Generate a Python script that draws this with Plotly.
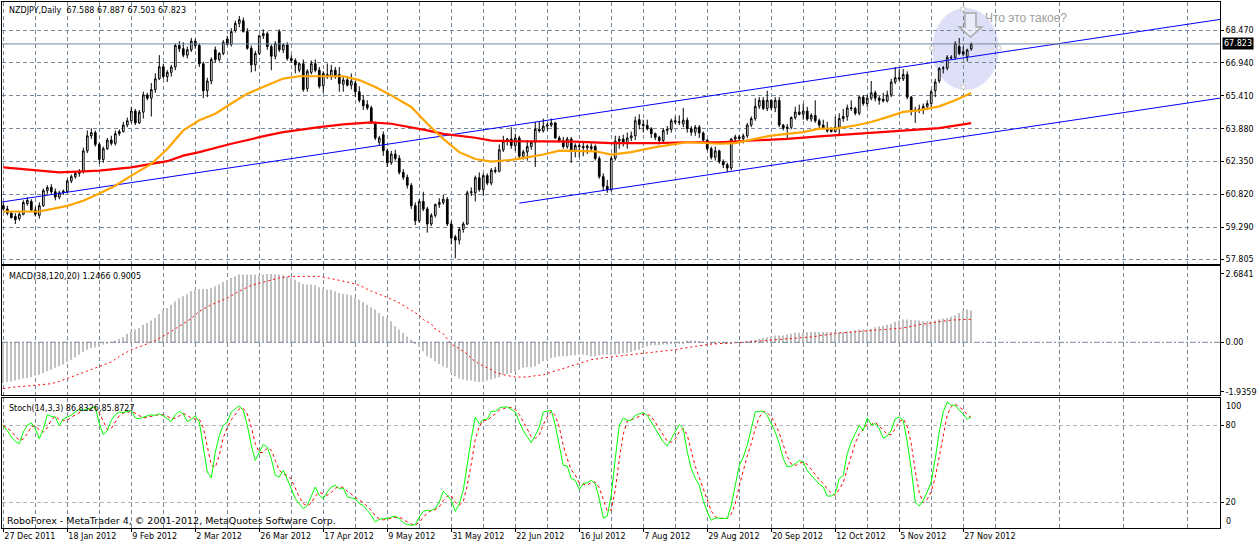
import plotly.graph_objects as go

# ---------------------------------------------------------
# data (bar 0 = 27 Dec 2011, last bar = 29 Nov 2012)
# ---------------------------------------------------------
opens = [
    60.30, 60.15, 59.95, 59.80, 59.70, 59.90, 60.40, 60.50, 60.10, 59.85,
    60.30, 61.00, 61.15, 60.95, 60.70, 60.90, 60.95, 61.45, 61.65, 61.80,
    61.90, 62.85, 63.55, 63.70, 63.15, 62.45, 62.95, 63.35, 63.20, 63.65,
    63.75, 64.05, 64.25, 64.70, 64.15, 64.65, 65.45, 65.30, 65.70, 66.20,
    66.76, 66.30, 66.50, 66.75, 67.75, 67.60, 67.30, 67.55, 67.95, 67.75,
    66.90, 65.65, 66.10, 67.55, 67.10, 67.38, 68.05, 67.80, 68.45, 68.78,
    68.90, 68.40, 67.62, 66.85, 67.38, 68.20, 68.30, 67.70, 67.25, 68.40,
    67.55, 67.78, 67.15, 67.05, 66.60, 66.90, 65.75, 66.50, 66.90, 66.60,
    65.88, 66.40, 66.30, 66.60, 66.40, 65.95, 66.15, 65.90, 66.00, 65.60,
    65.20, 65.00, 64.85, 64.10, 63.25, 63.60, 62.85, 62.30, 62.70, 62.50,
    61.85, 61.62, 61.25, 60.30, 59.60, 60.50, 60.15, 59.45, 59.85, 60.35,
    60.45, 60.60, 59.45, 58.85, 58.70, 59.20, 59.45, 60.90, 60.90, 61.60,
    61.05, 61.70, 61.35, 61.95, 61.90, 62.90, 63.30, 63.40, 63.10, 63.45,
    62.60, 62.80, 63.05, 63.25, 63.85, 63.78, 64.00, 64.05, 64.15, 63.45,
    63.32, 63.05, 63.40, 62.85, 63.10, 63.05, 63.00, 62.95, 63.05, 62.50,
    61.65, 61.20, 61.05, 62.50, 63.30, 63.40, 63.20, 63.45, 63.55, 64.30,
    64.08, 64.03, 63.88, 63.65, 63.48, 63.33, 63.80, 63.85, 64.25, 64.20,
    64.10, 64.28, 63.88, 63.72, 63.95, 63.68, 63.35, 62.95, 62.55, 62.85,
    62.35, 62.20, 62.05, 63.40, 63.50, 63.42, 63.55, 64.05, 64.35, 64.92,
    65.20, 64.82, 65.20, 64.85, 65.20, 64.05, 63.90, 63.95, 64.40, 64.65,
    64.55, 64.70, 64.33, 64.50, 64.25, 64.05, 63.90, 63.85, 63.75, 63.95,
    64.35, 64.45, 64.85, 64.82, 64.60, 65.35, 65.05, 65.30, 65.55, 65.30,
    65.25, 65.17, 65.45, 66.05, 66.25, 66.20, 66.40, 65.35, 64.75, 64.72,
    64.80, 64.92, 65.05, 65.65, 66.10, 66.68, 66.70, 67.20, 67.19, 67.70,
    67.46, 67.22, 67.588,
]
highs = [
    60.45, 60.30, 60.05, 59.95, 60.00, 60.55, 60.70, 60.60, 60.25, 60.45,
    61.10, 61.25, 61.30, 61.10, 61.00, 61.05, 61.55, 61.75, 61.90, 62.00,
    63.00, 63.80, 63.90, 63.80, 63.25, 63.05, 63.45, 63.55, 63.80, 63.85,
    64.20, 64.40, 64.90, 64.80, 64.75, 65.60, 65.55, 66.00, 66.45, 67.30,
    66.90, 66.60, 66.85, 67.85, 67.95, 67.90, 67.70, 68.10, 68.05, 67.85,
    67.00, 66.25, 67.20, 67.70, 67.45, 68.00, 68.20, 68.55, 68.90, 69.12,
    69.05, 68.55, 67.75, 67.50, 68.25, 68.50, 68.40, 67.80, 67.95, 68.50,
    67.85, 67.90, 67.30, 67.15, 66.95, 67.10, 66.65, 67.05, 67.10, 66.75,
    66.55, 66.91, 66.85, 66.75, 66.75, 66.30, 66.30, 66.45, 66.10, 65.85,
    65.45, 65.20, 64.95, 64.20, 63.55, 63.75, 62.95, 62.85, 62.90, 62.65,
    62.00, 61.75, 61.35, 60.45, 60.60, 60.95, 60.25, 59.95, 60.40, 60.65,
    60.80, 60.70, 59.60, 58.95, 59.30, 59.55, 61.00, 61.15, 61.70, 61.85,
    61.80, 61.80, 62.05, 62.10, 63.15, 63.55, 63.45, 63.95, 63.65, 63.55,
    62.90, 63.35, 63.30, 64.20, 64.20, 64.35, 64.15, 64.35, 64.20, 63.55,
    63.50, 63.50, 63.50, 63.20, 63.20, 63.25, 63.15, 63.20, 63.15, 62.60,
    61.80, 61.50, 62.60, 63.55, 63.55, 63.60, 63.70, 63.75, 64.45, 64.55,
    64.30, 64.30, 63.95, 63.70, 63.55, 63.90, 64.00, 64.35, 64.45, 64.50,
    64.85, 64.40, 64.00, 64.05, 64.05, 63.75, 63.40, 63.05, 63.05, 62.90,
    62.45, 62.30, 63.45, 63.60, 63.60, 63.65, 64.15, 64.45, 65.30, 65.35,
    65.35, 65.65, 65.25, 65.35, 65.35, 64.10, 64.10, 64.45, 64.90, 65.00,
    65.05, 64.90, 64.60, 65.20, 64.35, 64.30, 64.20, 63.95, 64.45, 64.60,
    64.80, 65.00, 65.20, 64.90, 65.40, 65.45, 65.45, 66.10, 65.65, 65.40,
    65.55, 65.65, 66.20, 66.75, 66.65, 66.65, 66.55, 65.40, 64.90, 65.00,
    65.05, 65.20, 65.70, 66.20, 66.75, 66.80, 67.30, 67.30, 67.95, 68.10,
    67.70, 67.60, 67.887,
]
lows = [
    60.05, 59.85, 59.70, 59.45, 59.60, 59.85, 60.30, 60.05, 59.80, 59.70,
    60.25, 60.85, 60.80, 60.55, 60.60, 60.80, 60.90, 61.35, 61.55, 61.65,
    61.80, 62.75, 63.40, 63.05, 62.25, 62.30, 62.90, 63.10, 63.10, 63.55,
    63.70, 63.95, 64.15, 64.05, 64.10, 64.35, 65.20, 64.45, 65.55, 66.15,
    66.20, 66.05, 66.30, 66.60, 67.45, 67.20, 67.15, 67.45, 67.60, 66.75,
    65.30, 65.35, 65.95, 66.95, 67.00, 67.30, 67.75, 67.70, 68.35, 68.60,
    68.35, 67.55, 66.50, 66.55, 67.30, 68.05, 67.55, 66.60, 67.10, 67.45,
    67.40, 67.05, 66.95, 66.45, 66.50, 65.60, 65.60, 66.40, 66.50, 65.75,
    65.55, 66.20, 66.15, 66.20, 65.60, 65.60, 65.85, 65.70, 65.35, 65.10,
    64.75, 64.75, 64.10, 63.35, 63.10, 62.62, 62.10, 62.20, 62.40, 61.75,
    61.50, 61.10, 60.15, 59.40, 59.50, 60.05, 59.05, 59.35, 59.75, 60.20,
    60.35, 59.35, 58.50, 57.85, 58.50, 59.05, 59.40, 60.75, 60.50, 60.95,
    60.75, 61.25, 61.25, 61.80, 61.85, 62.80, 63.10, 62.95, 62.85, 62.50,
    62.45, 62.40, 62.90, 62.10, 63.70, 63.70, 63.80, 63.95, 63.40, 63.25,
    62.95, 62.95, 62.30, 62.55, 62.55, 62.60, 62.70, 62.80, 62.40, 61.55,
    61.00, 60.90, 60.95, 62.40, 62.95, 63.05, 62.95, 63.30, 63.35, 63.85,
    63.70, 63.80, 63.45, 63.35, 63.15, 63.18, 63.60, 63.70, 64.10, 64.05,
    63.95, 63.70, 63.55, 63.55, 63.45, 63.30, 62.85, 62.45, 62.40, 62.25,
    62.05, 61.85, 61.95, 63.25, 63.25, 63.20, 63.45, 63.95, 64.25, 64.80,
    64.75, 64.70, 64.75, 64.65, 63.95, 63.80, 63.45, 63.85, 64.30, 64.50,
    64.30, 64.25, 64.20, 64.15, 63.90, 63.85, 63.70, 63.70, 63.70, 63.60,
    64.20, 64.25, 64.70, 64.50, 64.50, 64.95, 64.90, 65.20, 65.15, 65.00,
    65.10, 65.10, 65.35, 65.95, 66.10, 66.10, 65.25, 64.50, 64.15, 64.60,
    64.55, 64.75, 64.90, 65.35, 66.00, 66.45, 66.60, 67.10, 67.10, 67.30,
    67.25, 67.00, 67.503,
]
closes = [
    60.15, 59.95, 59.75, 59.65, 59.90, 60.45, 60.55, 60.10, 59.90, 60.30,
    61.00, 61.15, 60.95, 60.70, 60.90, 60.98, 61.45, 61.65, 61.80, 61.90,
    62.85, 63.55, 63.70, 63.15, 62.45, 62.95, 63.35, 63.20, 63.65, 63.75,
    64.05, 64.25, 64.70, 64.15, 64.65, 65.45, 65.30, 65.70, 66.20, 66.76,
    66.30, 66.50, 66.75, 67.75, 67.60, 67.30, 67.55, 67.95, 67.75, 66.90,
    65.65, 66.10, 67.10, 67.10, 67.38, 67.90, 67.80, 68.40, 68.78, 68.95,
    68.40, 67.62, 66.85, 67.38, 68.20, 68.30, 67.70, 67.25, 67.85, 67.55,
    67.78, 67.15, 67.05, 66.85, 66.90, 65.70, 66.55, 66.90, 66.60, 65.85,
    66.45, 66.30, 66.60, 66.30, 65.98, 66.15, 65.90, 66.10, 65.60, 65.20,
    64.95, 64.85, 64.20, 63.45, 63.45, 62.85, 62.30, 62.70, 62.50, 61.85,
    61.62, 61.25, 60.30, 59.60, 60.50, 60.15, 59.45, 59.85, 60.35, 60.45,
    60.60, 59.45, 58.80, 58.70, 59.20, 59.45, 60.90, 60.95, 61.60, 61.05,
    61.70, 61.35, 61.95, 61.90, 62.90, 63.30, 63.40, 63.10, 63.45, 62.60,
    62.80, 63.05, 63.25, 63.85, 63.78, 64.00, 64.05, 64.15, 63.45, 63.32,
    63.05, 63.40, 62.85, 63.10, 63.05, 63.00, 63.08, 63.05, 62.50, 61.65,
    61.20, 61.05, 62.50, 63.30, 63.40, 63.20, 63.45, 63.55, 64.25, 64.08,
    64.03, 63.88, 63.65, 63.48, 63.33, 63.80, 63.85, 64.25, 64.20, 64.18,
    64.28, 63.88, 63.72, 63.95, 63.68, 63.35, 62.95, 62.55, 62.85, 62.35,
    62.20, 62.05, 63.40, 63.50, 63.42, 63.55, 64.05, 64.35, 64.92, 65.20,
    64.82, 65.20, 64.85, 65.20, 64.05, 63.90, 63.95, 64.40, 64.65, 64.55,
    64.70, 64.33, 64.50, 64.25, 64.05, 63.90, 63.78, 63.75, 63.95, 64.35,
    64.45, 64.85, 64.82, 64.60, 65.35, 65.05, 65.30, 65.55, 65.30, 65.20,
    65.17, 65.45, 66.05, 66.25, 66.20, 66.40, 65.35, 64.75, 64.72, 64.80,
    64.92, 65.05, 65.60, 66.05, 66.68, 66.70, 67.20, 67.18, 67.85, 67.38,
    67.35, 67.54, 67.823,
]

# moving averages (orange / red), read at sample bars
ma_fast_idx = [0, 9, 16, 20, 24, 28, 32, 37, 41, 45, 49, 53, 57, 61, 66, 70, 74, 85,
               89, 93, 97, 102, 106, 110, 114, 118, 122, 127, 131, 135, 139, 148, 152,
               157, 163, 171, 179, 183, 188, 192, 196, 200, 204, 208, 213, 217, 221,
               225, 229, 234, 238, 242]
ma_fast = [60.03, 60.03, 60.29, 60.53, 60.87, 61.23, 61.70, 62.24, 62.94, 63.80, 64.27,
           64.58, 65.05, 65.51, 65.90, 66.21, 66.32, 66.32, 66.14, 65.82, 65.43, 64.89,
           64.11, 63.41, 62.79, 62.47, 62.35, 62.43, 62.55, 62.68, 62.86, 62.83, 62.68,
           62.79, 63.02, 63.25, 63.18, 63.21, 63.41, 63.56, 63.64, 63.72, 63.88, 63.88,
           64.03, 64.19, 64.42, 64.66, 64.73, 64.92, 65.20, 65.54]
ma_slow_idx = [0, 8, 14, 20, 24, 32, 37, 41, 45, 49, 57, 62, 66, 70, 74, 79, 85, 92,
               97, 102, 106, 110, 114, 118, 122, 127, 143, 148, 152, 163, 171, 179, 188,
               196, 204, 213, 221, 229, 234, 242]
ma_slow = [62.08, 61.96, 61.85, 61.90, 61.93, 62.08, 62.24, 62.37, 62.63, 62.79, 63.18,
           63.41, 63.57, 63.72, 63.83, 63.95, 64.08, 64.17, 64.11, 63.95, 63.80, 63.64,
           63.56, 63.46, 63.33, 63.30, 63.28, 63.25, 63.21, 63.21, 63.25, 63.25, 63.33,
           63.41, 63.52, 63.64, 63.72, 63.83, 63.91, 64.14]

# channel trend lines (end points)
chan_up_idx = [-0.4, 304.5]
chan_up = [60.47, 68.97]
chan_lo_idx = [129, 304.5]
chan_lo = [60.42, 65.31]

last_price = 67.823
price_ticks = [57.805, 59.290, 60.820, 62.350, 63.880, 65.410, 66.940, 68.470]

macd_hist = [
    -1.59, -1.55, -1.53, -1.50, -1.46, -1.42, -1.40, -1.36, -1.30, -1.27,
    -1.20, -1.13, -1.07, -1.00, -0.94, -0.87, -0.77, -0.68, -0.59, -0.48,
    -0.38, -0.29, -0.22, -0.20, -0.16, -0.09, -0.03, 0.01, 0.07, 0.13,
    0.21, 0.33, 0.43, 0.50, 0.56, 0.69, 0.76, 0.85, 0.95, 1.11,
    1.28, 1.34, 1.47, 1.60, 1.71, 1.80, 1.87, 2.00, 2.06, 2.09,
    2.09, 2.09, 2.13, 2.19, 2.26, 2.36, 2.45, 2.52, 2.58, 2.65,
    2.65, 2.65, 2.65, 2.65, 2.62, 2.65, 2.67, 2.67, 2.65, 2.65,
    2.62, 2.58, 2.52, 2.45, 2.36, 2.28, 2.26, 2.26, 2.23, 2.15,
    2.10, 2.06, 2.06, 2.00, 1.93, 1.89, 1.87, 1.84, 1.76, 1.67,
    1.58, 1.47, 1.37, 1.28, 1.15, 1.02, 0.95, 0.82, 0.63, 0.50,
    0.37, 0.23, 0.10, -0.03, -0.16, -0.35, -0.55, -0.61, -0.74, -0.85,
    -0.94, -1.00, -1.20, -1.33, -1.42, -1.46, -1.50, -1.50, -1.53, -1.55,
    -1.53, -1.50, -1.46, -1.42, -1.37, -1.27, -1.24, -1.20, -1.13, -1.07,
    -1.00, -0.98, -0.98, -0.94, -0.85, -0.74, -0.68, -0.61, -0.59, -0.55,
    -0.55, -0.55, -0.51, -0.51, -0.48, -0.48, -0.51, -0.55, -0.55, -0.51,
    -0.48, -0.48, -0.51, -0.48, -0.46, -0.42, -0.42, -0.38, -0.33, -0.29,
    -0.22, -0.16, -0.12, -0.12, -0.12, -0.09, -0.09, -0.07, -0.04, -0.04,
    -0.03, 0.07, 0.07, 0.07, 0.04, 0.01, -0.01, -0.03, -0.03, -0.01,
    -0.03, -0.04, -0.03, -0.01, 0.01, 0.01, 0.04, 0.07, 0.10, 0.14,
    0.17, 0.20, 0.23, 0.27, 0.27, 0.27, 0.30, 0.33, 0.37, 0.37,
    0.37, 0.40, 0.40, 0.40, 0.40, 0.40, 0.40, 0.40, 0.40, 0.40,
    0.40, 0.43, 0.43, 0.46, 0.50, 0.50, 0.50, 0.53, 0.59, 0.63,
    0.65, 0.69, 0.72, 0.80, 0.85, 0.89, 0.89, 0.87, 0.86, 0.85,
    0.82, 0.82, 0.82, 0.85, 0.89, 0.93, 0.95, 1.00, 1.06, 1.15,
    1.24, 1.28, 1.2466,
]
signal_idx = [0, 3, 8, 12, 14, 17, 20, 24, 27, 29, 32, 35, 38, 41, 44, 47, 49, 52, 56, 59,
              62, 66, 69, 72, 76, 79, 82, 86, 89, 92, 96, 99, 102, 104, 105, 107, 108,
              110, 111, 112, 114, 116, 117, 119, 122, 123, 125, 127, 128, 131, 132, 135,
              137, 139, 142, 144, 147, 152, 157, 160, 163, 168, 173, 177, 185, 193, 202,
              206, 208, 212, 217, 221, 225, 229, 233, 237, 242]
signal = [-1.81, -1.75, -1.68, -1.62, -1.53, -1.36, -1.17, -0.94, -0.77, -0.55, -0.29,
          -0.12, 0.07, 0.33, 0.63, 0.93, 1.21, 1.47, 1.73, 2.00, 2.23, 2.39, 2.52, 2.58,
          2.58, 2.58, 2.49, 2.36, 2.23, 2.00, 1.76, 1.54, 1.25, 1.06, 0.89, 0.72, 0.52,
          0.33, 0.13, -0.07, -0.25, -0.46, -0.64, -0.85, -1.07, -1.17, -1.27, -1.33,
          -1.36, -1.36, -1.33, -1.27, -1.17, -1.07, -0.94, -0.81, -0.68, -0.57, -0.48,
          -0.44, -0.38, -0.29, -0.16, -0.07, 0.00, 0.10, 0.21, 0.30, 0.35, 0.40, 0.46,
          0.50, 0.56, 0.69, 0.78, 0.87, 0.9005]

stoch_k = [
    79.5, 76.0, 71.0, 67.5, 65.7, 74.8, 80.0, 82.0, 77.4, 69.6,
    77.0, 88.3, 87.0, 86.5, 80.0, 85.0, 86.5, 88.0, 90.5, 92.6,
    91.7, 93.0, 93.6, 94.4, 81.3, 72.7, 76.0, 84.0, 88.3, 90.5,
    90.0, 91.0, 91.7, 85.8, 85.2, 86.5, 87.4, 88.3, 87.8, 89.0,
    87.4, 85.2, 83.0, 88.3, 91.0, 89.0, 83.0, 84.7, 87.4, 82.6,
    64.4, 43.5, 38.8, 59.0, 72.2, 80.0, 82.6, 90.5, 93.0, 95.2,
    91.7, 80.0, 64.4, 52.6, 59.0, 65.0, 63.0, 53.9, 40.9, 39.6,
    44.8, 38.3, 30.5, 22.6, 18.7, 14.8, 17.4, 25.3, 31.8, 25.3,
    22.6, 27.9, 31.8, 33.1, 30.5, 31.0, 24.0, 23.2, 22.6, 18.7,
    17.4, 13.5, 9.6, 4.4, 6.5, 7.0, 7.0, 8.3, 9.0, 7.0,
    3.9, 2.3, 1.8, 2.3, 8.3, 12.7, 13.5, 13.5, 14.8, 20.0,
    28.4, 25.3, 21.3, 12.7, 18.7, 29.2, 51.3, 69.6, 86.5, 81.3,
    84.7, 84.7, 91.0, 91.0, 93.6, 94.4, 94.4, 92.6, 90.5, 82.6,
    76.0, 71.0, 66.5, 72.2, 78.7, 90.5, 91.0, 91.7, 80.0, 64.4,
    48.7, 48.2, 38.3, 37.0, 30.0, 34.4, 35.2, 37.0, 34.4, 22.6,
    7.5, 9.0, 25.3, 53.9, 80.0, 85.7, 83.9, 83.9, 87.8, 89.0,
    90.0, 87.8, 82.6, 77.4, 72.2, 67.0, 63.9, 69.6, 74.8, 80.5,
    77.4, 59.2, 46.1, 38.8, 33.1, 21.3, 12.2, 5.7, 7.5, 7.5,
    7.5, 7.0, 17.4, 31.8, 48.7, 55.2, 64.4, 77.4, 90.5, 91.0,
    91.0, 87.8, 81.3, 74.8, 65.7, 53.9, 47.4, 48.2, 50.0, 52.6,
    51.3, 44.8, 40.9, 37.8, 34.0, 31.8, 24.7, 24.7, 26.5, 38.3,
    40.9, 57.8, 67.0, 73.5, 80.0, 76.0, 85.7, 80.5, 81.3, 77.4,
    70.1, 71.7, 76.0, 85.2, 86.5, 83.9, 67.0, 46.1, 20.0, 16.9,
    21.3, 27.9, 35.7, 53.9, 74.8, 90.5, 98.3, 95.7, 95.7, 91.7,
    89.0, 84.7, 86.8326,
]
stoch_d = [
    80.0, 78.0, 75.5, 71.5, 68.1, 69.3, 73.5, 78.9, 79.8, 76.3,
    74.7, 78.3, 84.1, 87.3, 84.5, 83.8, 83.8, 86.5, 88.3, 90.4,
    91.6, 92.4, 92.8, 93.7, 89.8, 82.8, 76.7, 77.6, 82.8, 87.6,
    89.6, 90.5, 90.9, 89.5, 87.6, 85.8, 86.4, 87.4, 87.8, 88.4,
    88.1, 87.2, 85.2, 85.5, 87.4, 89.4, 87.7, 85.6, 85.0, 84.9,
    78.1, 63.5, 48.9, 47.1, 56.7, 70.4, 78.3, 84.4, 88.7, 92.9,
    93.3, 89.0, 78.7, 65.7, 58.7, 58.9, 62.3, 60.6, 52.6, 44.8,
    41.8, 40.9, 37.9, 30.5, 23.9, 18.7, 17.0, 19.2, 24.8, 27.5,
    26.6, 25.3, 27.4, 30.9, 31.8, 31.5, 28.5, 26.1, 23.3, 21.5,
    19.6, 16.5, 13.5, 9.2, 6.8, 6.0, 6.8, 7.4, 8.1, 8.1,
    6.6, 4.4, 2.7, 2.1, 4.1, 7.8, 11.5, 13.2, 13.9, 16.1,
    21.1, 24.6, 25.0, 19.8, 17.6, 20.2, 33.1, 50.0, 69.1, 79.1,
    84.2, 83.6, 86.8, 88.9, 91.9, 93.0, 94.1, 93.8, 92.5, 88.6,
    83.0, 76.5, 71.2, 69.9, 72.5, 80.5, 86.7, 91.1, 87.6, 78.7,
    64.4, 53.8, 45.1, 41.2, 35.1, 33.8, 33.2, 35.5, 35.5, 31.3,
    21.5, 13.0, 13.9, 29.4, 53.1, 73.2, 83.2, 84.5, 85.2, 86.9,
    88.9, 88.9, 86.8, 82.6, 77.4, 72.2, 67.7, 66.8, 69.4, 75.0,
    77.6, 72.4, 60.9, 48.0, 39.3, 31.1, 22.2, 13.1, 8.5, 6.9,
    7.5, 7.3, 10.6, 18.7, 32.6, 45.2, 56.1, 65.7, 77.4, 86.3,
    90.8, 89.9, 86.7, 81.3, 73.9, 64.8, 55.7, 49.8, 48.5, 50.3,
    51.3, 49.6, 45.7, 41.2, 37.6, 34.5, 30.2, 27.1, 25.3, 29.8,
    35.2, 45.7, 55.2, 66.1, 73.5, 76.5, 80.6, 80.7, 82.5, 79.7,
    76.3, 73.1, 72.6, 77.6, 82.6, 85.2, 79.1, 65.7, 44.4, 27.7,
    19.4, 22.0, 28.3, 39.2, 54.8, 73.1, 87.9, 94.8, 96.6, 94.4,
    92.1, 88.5, 85.8727,
]

date_idx = [0, 16, 32, 48, 64, 80, 96, 112, 128, 144, 160, 176, 192, 208, 224, 240]
date_labels = ["27 Dec 2011", "18 Jan 2012", "9 Feb 2012", "2 Mar 2012", "26 Mar 2012",
               "17 Apr 2012", "9 May 2012", "31 May 2012", "22 Jun 2012", "16 Jul 2012",
               "7 Aug 2012", "29 Aug 2012", "20 Sep 2012", "12 Oct 2012", "5 Nov 2012",
               "27 Nov 2012"]

bars = list(range(len(closes)))

# ---------------------------------------------------------
# pixel helpers (plot area 2..1220 x 2..528)
# ---------------------------------------------------------
def px(x):
    return (x - 2) / 1218.0

def py(y):
    return (528 - y) / 526.0

GRID = "#778899"
DASH = "4px,3px"
FONT = "DejaVu Sans"

fig = go.Figure()

# main pane
fig.add_trace(go.Candlestick(
    x=bars, open=opens, high=highs, low=lows, close=closes,
    increasing=dict(fillcolor="white", line=dict(color="black", width=1)),
    decreasing=dict(fillcolor="black", line=dict(color="black", width=1)),
    whiskerwidth=0, xaxis="x", yaxis="y", hoverinfo="skip"))
fig.add_trace(go.Scatter(x=chan_up_idx, y=chan_up, mode="lines",
                         line=dict(color="#0000ff", width=1), xaxis="x", yaxis="y"))
fig.add_trace(go.Scatter(x=chan_lo_idx, y=chan_lo, mode="lines",
                         line=dict(color="#0000ff", width=1), xaxis="x", yaxis="y"))
fig.add_trace(go.Scatter(x=ma_slow_idx, y=ma_slow, mode="lines",
                         line=dict(color="#ff0000", width=2.2), xaxis="x", yaxis="y"))
fig.add_trace(go.Scatter(x=ma_fast_idx, y=ma_fast, mode="lines",
                         line=dict(color="#ffa500", width=2.2), xaxis="x", yaxis="y"))

# MACD pane
fig.add_trace(go.Bar(x=bars, y=macd_hist, width=0.3, marker=dict(color="#c0c0c0", line=dict(width=0)),
                     xaxis="x2", yaxis="y2"))
fig.add_trace(go.Scatter(x=signal_idx, y=signal, mode="lines",
                         line=dict(color="#ff0000", width=1, dash="2px,3px"), xaxis="x2", yaxis="y2"))

# Stochastic pane
fig.add_trace(go.Scatter(x=bars, y=stoch_d, mode="lines",
                         line=dict(color="#ff0000", width=1, dash="3px,3px"), xaxis="x3", yaxis="y3"))
fig.add_trace(go.Scatter(x=bars, y=stoch_k, mode="lines",
                         line=dict(color="#00ff00", width=1), xaxis="x3", yaxis="y3"))

xbase = dict(
    range=[-0.33, 304.2], showline=True, mirror=True, linecolor="black", linewidth=1,
    tickmode="array", tickvals=date_idx, ticktext=date_labels,
    showgrid=True, gridcolor=GRID, griddash=DASH, gridwidth=1, zeroline=False,
    minor=dict(tickmode="linear", tick0=8, dtick=16, showgrid=True, gridcolor=GRID,
               griddash=DASH, gridwidth=1, ticks=""),
    fixedrange=True,
)
ybase = dict(side="right", showline=True, mirror=True, linecolor="black", linewidth=1,
             ticks="outside", ticklen=3, tickcolor="black", zeroline=False, fixedrange=True,
             tickfont=dict(family=FONT, size=8, color="black"))

fig.update_layout(
    width=1258, height=545,
    margin=dict(l=2, r=38, t=2, b=17),
    paper_bgcolor="white", plot_bgcolor="white",
    showlegend=False, barmode="overlay", boxgap=0.4,
    font=dict(family=FONT, size=8, color="black"),
    xaxis=dict(xbase, anchor="y", showticklabels=False, ticks="", rangeslider=dict(visible=False)),
    xaxis2=dict(xbase, anchor="y2", matches="x", showticklabels=False, ticks=""),
    xaxis3=dict(xbase, anchor="y3", matches="x", ticks="outside", ticklen=3, tickcolor="black",
                ticklabelposition="outside right",
                tickfont=dict(family=FONT, size=8, color="black")),
    yaxis=dict(ybase, anchor="x", domain=[0.5019, 1.0], range=[57.589, 69.772],
               tickmode="array", tickvals=price_ticks, ticktext=["%.3f" % v for v in price_ticks],
               showgrid=True, gridcolor=GRID, griddash=DASH),
    yaxis2=dict(ybase, anchor="x2", domain=[0.2523, 0.4981], range=[-2.074, 2.986],
                tickmode="array", tickvals=[2.6841, 0.0, -1.9359],
                ticktext=["2.6841", "0.00", "-1.9359"], showgrid=False),
    yaxis3=dict(ybase, anchor="x3", domain=[0.0, 0.2471], range=[-0.31, 101.4],
                tickmode="array", tickvals=[20, 80], ticktext=["20", "80"],
                showgrid=True, gridcolor="#b4b4b4", griddash=DASH),
)

shapes = [
    # last price line
    dict(type="line", xref="paper", yref="y", x0=0, x1=1, y0=last_price, y1=last_price,
         line=dict(color=GRID, width=1)),
    # MACD zero level
    dict(type="line", xref="paper", yref="y2", x0=0, x1=1, y0=0, y1=0,
         line=dict(color=GRID, width=1, dash="6px,2px,2px,2px")),
    # highlighted ellipse
    dict(type="circle", xref="paper", yref="paper", x0=px(932), x1=px(999), y0=py(90), y1=py(8),
         fillcolor="rgba(200,204,242,0.6)", line=dict(width=0), layer="below"),
    # down arrow
    dict(type="path", xref="paper", yref="paper",
         path="M %f,%f L %f,%f L %f,%f L %f,%f L %f,%f L %f,%f L %f,%f Z" % (
             px(965), py(13), px(976), py(13), px(976), py(27), px(982), py(27),
             px(970.5), py(37), px(959), py(27), px(965), py(27)),
         fillcolor="rgba(255,255,255,0.4)", line=dict(color="#a8a8a8", width=1.5)),
]
for hx, hy in [(932, 48), (999, 48), (963, 9), (963, 87)]:
    shapes.append(dict(type="rect", xref="paper", yref="paper",
                       x0=px(hx - 2), x1=px(hx + 2), y0=py(hy + 2), y1=py(hy - 2),
                       fillcolor="white", line=dict(color="#c8c8c8", width=1)))
fig.update_layout(shapes=shapes)

ann = [
    dict(text="NZDJPY,Daily\u00a0\u00a067.588 67.887 67.503 67.823", x=px(7), y=py(11)),
    dict(text="MACD(38,120,20) 1.2466 0.9005", x=px(7), y=py(276)),
    dict(text="Stoch(14,3,3) 86.8326,85.8727", x=px(7), y=py(408)),
]
annotations = []
for a in ann:
    annotations.append(dict(a, xref="paper", yref="paper", xanchor="left", yanchor="middle",
                            showarrow=False, font=dict(family=FONT, size=8, color="black")))
annotations.append(dict(text="RoboForex - MetaTrader 4, © 2001-2012, MetaQuotes Software Corp.",
                        x=px(5), y=py(520), xref="paper", yref="paper", xanchor="left",
                        yanchor="middle", showarrow=False,
                        font=dict(family=FONT, size=9.5, color="black")))
annotations.append(dict(text="Что это такое?", x=px(983), y=py(18), xref="paper", yref="paper",
                        xanchor="left", yanchor="middle", showarrow=False,
                        font=dict(family="Liberation Sans", size=12, color="#a0a0a0")))
annotations.append(dict(text="67.823", x=1, y=last_price, xref="paper", yref="y", xanchor="left",
                        yanchor="middle", xshift=2, showarrow=False, bgcolor="black",
                        borderpad=1, font=dict(family=FONT, size=8, color="white")))
annotations.append(dict(text="100", x=1, y=100, xref="paper", yref="y3", xanchor="left",
                        yanchor="top", xshift=4, showarrow=False,
                        font=dict(family=FONT, size=8, color="black")))
annotations.append(dict(text="0", x=1, y=0, xref="paper", yref="y3", xanchor="left",
                        yanchor="bottom", xshift=4, showarrow=False,
                        font=dict(family=FONT, size=8, color="black")))
fig.update_layout(annotations=annotations)

# the page body has a default 8px margin; drop it so the chart fills the window
fig.write_html("out.html", config={"displayModeBar": False},
               post_script="document.body.style.margin='0';")
